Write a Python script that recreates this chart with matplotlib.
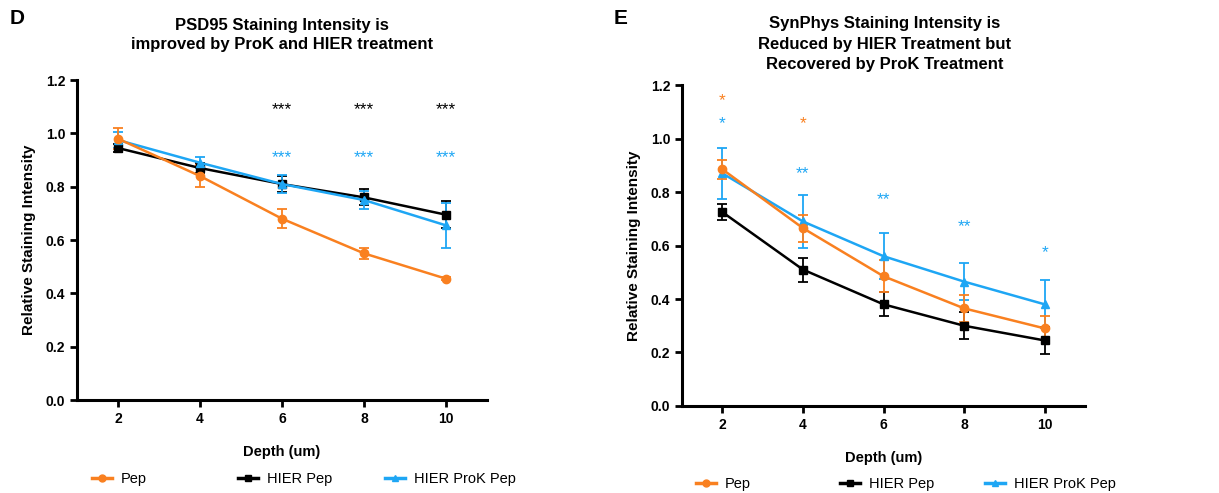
import numpy as np
import matplotlib
matplotlib.use("Agg")
import matplotlib.pyplot as plt
from matplotlib.lines import Line2D

plt.rcParams["font.family"] = ["Liberation Sans", "DejaVu Sans"]

depth = [2, 4, 6, 8, 10]

# PSD95 (panel D)
psd_pep = [0.98, 0.84, 0.68, 0.55, 0.455]
psd_pep_err = [0.04, 0.04, 0.035, 0.02, 0.006]
psd_hier = [0.945, 0.87, 0.81, 0.76, 0.695]
psd_hier_err = [0.015, 0.02, 0.03, 0.03, 0.05]
psd_prok = [0.975, 0.89, 0.81, 0.75, 0.655]
psd_prok_err = [0.03, 0.02, 0.035, 0.035, 0.085]

# SynPhys (panel E)
syn_pep = [0.885, 0.665, 0.485, 0.365, 0.29]
syn_pep_err = [0.035, 0.05, 0.06, 0.05, 0.045]
syn_hier = [0.725, 0.51, 0.38, 0.30, 0.245]
syn_hier_err = [0.03, 0.045, 0.045, 0.05, 0.05]
syn_prok = [0.87, 0.69, 0.56, 0.465, 0.38]
syn_prok_err = [0.095, 0.1, 0.085, 0.07, 0.09]

# significance marks: (x, y, text, colour key)
psd_marks = [(6, 1.10, "***", "k"), (8, 1.10, "***", "k"), (10, 1.10, "***", "k"),
             (6, 0.92, "***", "b"), (8, 0.92, "***", "b"), (10, 0.92, "***", "b")]
syn_marks = [(2, 1.15, "*", "o"), (2, 1.065, "*", "b"), (4, 1.065, "*", "o"),
             (4, 0.88, "**", "b"), (6, 0.78, "**", "b"), (8, 0.68, "**", "b"),
             (10, 0.585, "*", "b")]

names = ["Pep", "HIER Pep", "HIER ProK Pep"]
orange = "#F98020"
blue = "#1EA6F4"
black = "#000000"
colors = {"o": orange, "k": black, "b": blue}

fig = plt.figure(figsize=(12.19, 4.93), dpi=100)
axD = fig.add_axes([0.0632, 0.1886, 0.3363, 0.649])
axE = fig.add_axes([0.5595, 0.1765, 0.3306, 0.651])


def draw(ax, pep, pep_e, hier, hier_e, prok, prok_e, marks):
    kw = dict(lw=1.8, capsize=3.5, elinewidth=1.3, capthick=1.3, ms=6)
    ax.errorbar(depth, hier, yerr=hier_e, color=black, marker="s", **kw)
    ax.errorbar(depth, prok, yerr=prok_e, color=blue, marker="^", **kw)
    ax.errorbar(depth, pep, yerr=pep_e, color=orange, marker="o", **kw)
    for x, y, t, c in marks:
        ax.text(x, y - 0.01, t, color=colors[c], ha="center", va="center",
                fontsize=12.5)
    ax.set_xlim(1, 11)
    ax.set_ylim(0, 1.2)
    ax.set_xticks(depth)
    ax.set_yticks(np.arange(0, 1.21, 0.2))
    ax.set_yticklabels([f"{v:.1f}" for v in np.arange(0, 1.21, 0.2)])
    for s in ["top", "right"]:
        ax.spines[s].set_visible(False)
    for s in ["left", "bottom"]:
        ax.spines[s].set_linewidth(2.2)
    ax.tick_params(direction="out", length=5, width=2, labelsize=10)
    for lab in ax.get_xticklabels() + ax.get_yticklabels():
        lab.set_fontweight("bold")
    ax.set_xlabel("Depth (um)", fontsize=10.5, fontweight="bold", labelpad=14)
    ax.set_ylabel("Relative Staining Intensity", fontsize=11, fontweight="bold",
                  labelpad=7)


draw(axD, psd_pep, psd_pep_err, psd_hier, psd_hier_err, psd_prok, psd_prok_err, psd_marks)
draw(axE, syn_pep, syn_pep_err, syn_hier, syn_hier_err, syn_prok, syn_prok_err, syn_marks)

fig.text(282 / 1219, 1 - 35 / 493, "PSD95 Staining Intensity is\nimproved by ProK and HIER treatment",
         ha="center", va="center", fontsize=12, fontweight="bold", linespacing=1.4)
fig.text(885 / 1219, 1 - 44 / 493,
         "SynPhys Staining Intensity is\nReduced by HIER Treatment but\nRecovered by ProK Treatment",
         ha="center", va="center", fontsize=12, fontweight="bold", linespacing=1.45)
fig.text(10 / 1219, 1 - 18 / 493, "D", fontsize=15, fontweight="bold", va="center")
fig.text(614 / 1219, 1 - 18 / 493, "E", fontsize=15, fontweight="bold", va="center")

handles = [Line2D([], [], color=orange, marker="o", lw=2.5, ms=5),
           Line2D([], [], color=black, marker="s", lw=2.5, ms=5),
           Line2D([], [], color=blue, marker="^", lw=2.5, ms=5)]

legend_pos = [((92, 479), (238, 479), (385, 479)),
              ((696, 484), (840, 484), (985, 484))]
for row in legend_pos:
    for h, n, (px, py) in zip(handles, names, row):
        leg = fig.legend([h], [n], loc="center left",
                         bbox_to_anchor=(px / 1219, 1 - py / 493),
                         frameon=False, fontsize=10.5, handlelength=1.4,
                         handletextpad=0.6, borderpad=0, borderaxespad=0)

fig.savefig("out.png", dpi=100)
